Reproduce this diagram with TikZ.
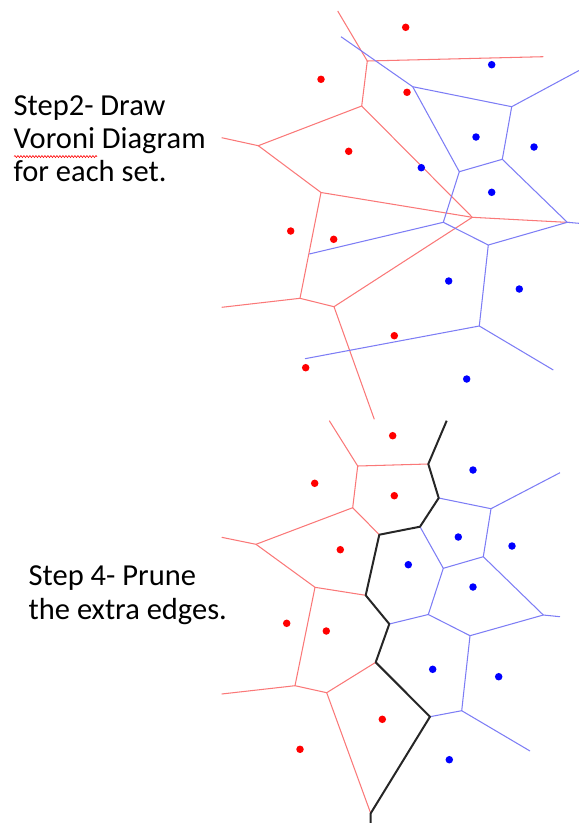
\documentclass[tikz,border=0pt]{standalone}
\usepackage{fontspec}
\setmainfont{Carlito}
\usetikzlibrary{decorations.pathmorphing}
\definecolor{redsite}{RGB}{255,0,0}
\definecolor{bluesite}{RGB}{0,0,255}
\definecolor{rededge}{RGB}{250,120,120}
\definecolor{blueedge}{RGB}{125,125,245}
\tikzset{
  redcell/.style={draw=rededge, line width=1.05pt},
  bluecell/.style={draw=blueedge, line width=1.05pt},
  merge/.style={draw=black!85, line width=2pt, line join=round},
  redpt/.style={fill=redsite, circle, inner sep=0pt, minimum size=7.5pt},
  bluept/.style={fill=bluesite, circle, inner sep=0pt, minimum size=7.5pt},
  caption/.style={anchor=base west, inner sep=0pt, font=\fontsize{30.5}{33}\selectfont},
}
\begin{document}
\begin{tikzpicture}[x=1pt, y=-1pt]
\useasboundingbox (0,0) rectangle (579,823);

% ---------- captions ----------
\node[caption] (s2a) at (13.5,115) {Step2- Draw};
\node[caption] (s2b) at (13.5,148.5) {Voroni Diagram};
\node[caption] (s2c) at (13.5,181.5) {for each set.};
\draw[redsite, line width=0.6pt, decorate, decoration={snake, amplitude=1pt, segment length=3pt}]
  (14,156.5) -- (97,156.5);
\node[caption] (s4a) at (28.5,585.5) {Step 4- Prune};
\node[caption] (s4b) at (28.5,619) {the extra edges.};

% ---------- Step 2: red Voronoi diagram ----------
\coordinate (ra) at (367.3,61);
\coordinate (rb) at (361.7,106);
\coordinate (rc) at (258.3,145.7);
\coordinate (rd) at (321,192.5);
\coordinate (re) at (472.3,217.3);
\coordinate (rf) at (300,298.3);
\coordinate (rg) at (334,306.7);
\coordinate (ra1) at (337.7,11);
\coordinate (ra2) at (543.3,56.7);
\coordinate (rc1) at (221.7,137.7);
\coordinate (re1) at (570,222.5);
\coordinate (rf1) at (221.7,307.3);
\coordinate (rg1) at (374.3,419.3);
\draw[redcell] (ra1) -- (ra) -- (ra2);
\draw[redcell] (ra) -- (rb) -- (rc) -- (rc1);
\draw[redcell] (rc) -- (rd) -- (re) -- (re1);
\draw[redcell] (rb) -- (re) -- (rg) -- (rg1);
\draw[redcell] (rd) -- (rf) -- (rf1);
\draw[redcell] (rf) -- (rg);

% ---------- Step 2: blue Voronoi diagram ----------
\coordinate (ba) at (412.7,86.7);
\coordinate (bb) at (511.7,106.7);
\coordinate (bc) at (502.3,159.3);
\coordinate (bd) at (459.3,171.7);
\coordinate (be) at (443.3,222.3);
\coordinate (bf) at (488.3,245);
\coordinate (bg) at (567.3,222.3);
\coordinate (bh) at (479.3,326);
\coordinate (ba1) at (341,36.7);
\coordinate (bb1) at (579,70.5);
\coordinate (bg1) at (579,223.3);
\coordinate (be1) at (309.3,254);
\coordinate (bh1) at (305,358.7);
\coordinate (bh2) at (553.3,370);
\draw[bluecell] (ba1) -- (ba) -- (bb) -- (bb1);
\draw[bluecell] (bb) -- (bc) -- (bd) -- (ba);
\draw[bluecell] (bc) -- (bg) -- (bg1);
\draw[bluecell] (bd) -- (be) -- (bf) -- (bg);
\draw[bluecell] (be) -- (be1);
\draw[bluecell] (bf) -- (bh) -- (bh1);
\draw[bluecell] (bh) -- (bh2);

% ---------- Step 2: sites ----------
\node[redpt] (p1) at (405.7,27.3) {};
\node[redpt] (p2) at (321,79.3) {};
\node[redpt] (p3) at (407,92.3) {};
\node[redpt] (p4) at (348.7,151.3) {};
\node[redpt] (p5) at (290.7,231) {};
\node[redpt] (p6) at (333.7,239.3) {};
\node[redpt] (p7) at (394.3,335.7) {};
\node[redpt] (p8) at (305.7,367.7) {};
\node[bluept] (q1) at (491.7,64.7) {};
\node[bluept] (q2) at (476,137) {};
\node[bluept] (q3) at (534,147) {};
\node[bluept] (q4) at (421.3,167.7) {};
\node[bluept] (q5) at (491.7,192.3) {};
\node[bluept] (q6) at (448.7,281) {};
\node[bluept] (q7) at (519.3,289) {};
\node[bluept] (q8) at (466.7,379) {};

% ---------- Step 4: pruned red cells ----------
\coordinate (m1) at (446.7,420.7);
\coordinate (m2) at (428.3,464);
\coordinate (m3) at (438.7,498);
\coordinate (m4) at (420,526.7);
\coordinate (m5) at (379.3,534.7);
\coordinate (m6) at (365.7,595.3);
\coordinate (m7) at (389.3,624);
\coordinate (m8) at (375.7,662.3);
\coordinate (m9) at (430,716.7);
\coordinate (m10) at (370.7,813.3);
\coordinate (m11) at (370.7,823);
\coordinate (sa) at (357.7,466);
\coordinate (sb) at (352.7,507.7);
\coordinate (sc) at (256,544.3);
\coordinate (sd) at (315,587.3);
\coordinate (se) at (295,685.7);
\coordinate (sf) at (326.7,692.7);
\coordinate (sa1) at (329.3,420.7);
\coordinate (sc1) at (221.7,537.3);
\coordinate (se1) at (221.7,694);
\draw[redcell] (sa1) -- (sa) -- (m2);
\draw[redcell] (sa) -- (sb) -- (sc) -- (sc1);
\draw[redcell] (sb) -- (m5);
\draw[redcell] (sc) -- (sd) -- (m6);
\draw[redcell] (sd) -- (se) -- (se1);
\draw[redcell] (se) -- (sf) -- (m8);
\draw[redcell] (sf) -- (m10);

% ---------- Step 4: pruned blue cells ----------
\coordinate (ta) at (491,508.7);
\coordinate (tb) at (483.3,556.7);
\coordinate (tc) at (443.3,568.3);
\coordinate (td) at (428.3,614.5);
\coordinate (te) at (470,635.7);
\coordinate (tf) at (543.3,615);
\coordinate (tg) at (461.7,710.7);
\coordinate (ta1) at (560,472.7);
\coordinate (tf1) at (560,616.7);
\coordinate (tg1) at (530,751);
\draw[bluecell] (m3) -- (ta) -- (ta1);
\draw[bluecell] (ta) -- (tb) -- (tc) -- (m4);
\draw[bluecell] (tc) -- (td) -- (m7);
\draw[bluecell] (td) -- (te) -- (tf) -- (tf1);
\draw[bluecell] (tb) -- (tf);
\draw[bluecell] (te) -- (tg) -- (m9);
\draw[bluecell] (tg) -- (tg1);

% ---------- Step 4: merge chain ----------
\draw[merge] (m1) -- (m2) -- (m3) -- (m4) -- (m5) -- (m6) -- (m7) -- (m8) -- (m9) -- (m10) -- (m11);

% ---------- Step 4: sites ----------
\node[redpt] (u1) at (392.7,435.7) {};
\node[redpt] (u2) at (314.7,483.3) {};
\node[redpt] (u3) at (394.3,495.7) {};
\node[redpt] (u4) at (340.3,549.7) {};
\node[redpt] (u5) at (286.7,623.3) {};
\node[redpt] (u6) at (326.3,631) {};
\node[redpt] (u7) at (382.3,719.3) {};
\node[redpt] (u8) at (300,749.3) {};
\node[bluept] (v1) at (473,470) {};
\node[bluept] (v2) at (458.3,537) {};
\node[bluept] (v3) at (512,546) {};
\node[bluept] (v4) at (408.3,564.7) {};
\node[bluept] (v5) at (473,587) {};
\node[bluept] (v6) at (432.7,669.3) {};
\node[bluept] (v7) at (498.7,676.7) {};
\node[bluept] (v8) at (449.3,759.7) {};
\end{tikzpicture}
\end{document}
